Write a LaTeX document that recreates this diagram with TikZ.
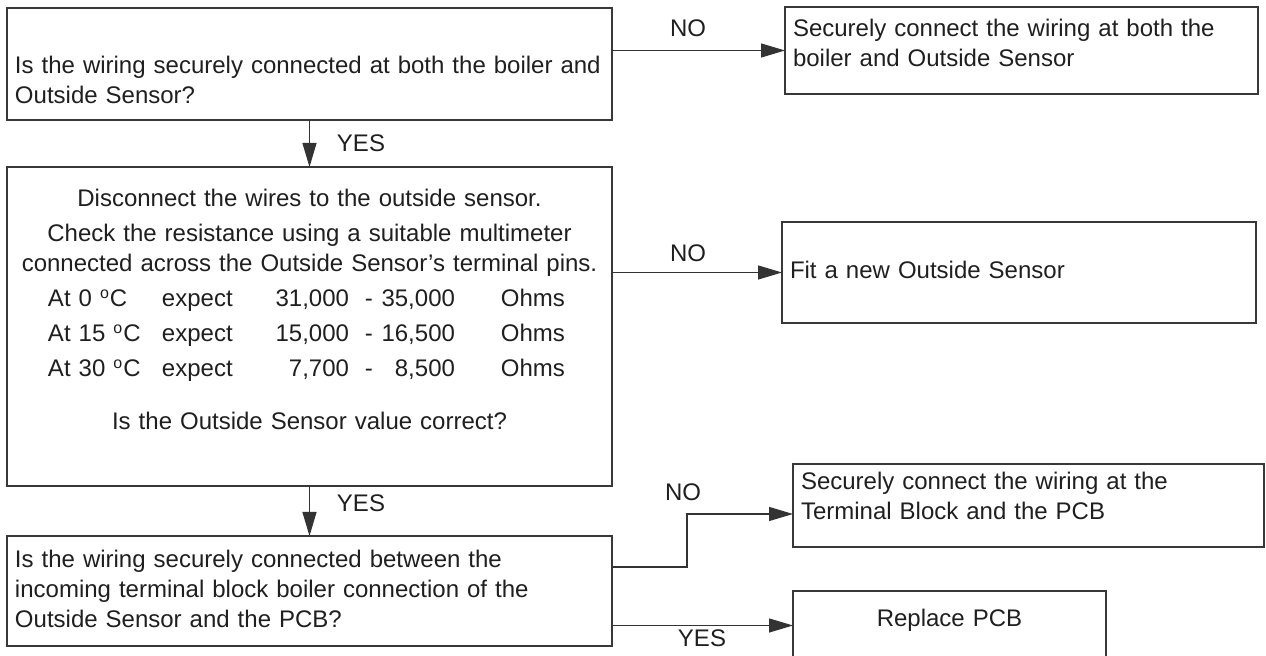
\documentclass[tikz,border=0pt]{standalone}
\usepackage{fontspec}
\setmainfont{Liberation Sans}
\usetikzlibrary{arrows.meta, positioning}
\newcommand{\tpad}[1]{\rule{0pt}{#1}}
\newcommand{\bpad}[1]{\rule[-#1]{0pt}{#1}}
\newcommand{\ohmrow}[3]{\makebox[\linewidth][l]{\hspace{16.5pt}\makebox[57pt][l]{At #1 \textsuperscript{o}C}\makebox[93.5pt]{expect\hfill #2}\makebox[12pt][r]{-}\makebox[41pt][r]{#3}\hspace{23pt}Ohms}}

\begin{document}
\begin{tikzpicture}[x=0.5pt, y=-0.5pt,
            box/.style={draw=black!78, line width=0.6pt, anchor=north west, inner xsep=4pt, inner ysep=0pt, outer sep=0pt, align=left, text=black!88, font=\fontsize{12}{15}\selectfont},
            lbl/.style={inner sep=0pt, text=black!88, font=\fontsize{12}{15}\selectfont},
            con/.style={draw=black!80, line width=0.6pt, -{Triangle[length=12pt, width=7pt]}}]
            \useasboundingbox (0,0) rectangle (1266,656);
            \clip (0,0) rectangle (1266,656);
            % questions on the left
            \node[box, text width=294.5pt] (q1) at (7,8) {\tpad{33pt}Is the wiring securely connected at both the boiler and\\Outside Sensor?\bpad{8pt}};
            \node[box, text width=294.5pt, align=center] (q2) at (7,167) {\tpad{20pt}Disconnect the wires to the outside sensor.\\[2.5pt]
                Check the resistance using a suitable multimeter\\
                connected across the Outside Sensor’s terminal pins.\\[2.5pt]
                \ohmrow{0}{31,000}{35,000}\\[2.5pt]
                \ohmrow{15}{15,000}{16,500}\\[2.5pt]
                \ohmrow{30}{7,700}{8,500}\\[11.5pt]
                Is the Outside Sensor value correct?\bpad{28pt}};
            \node[box, text width=294.5pt] (q3) at (7,536) {\tpad{16pt}Is the wiring securely connected between the\\incoming terminal block boiler connection of the\\Outside Sensor and the PCB?\bpad{9pt}};
            % actions on the right
            \node[box, text width=228.5pt] (a1) at (785,7) {\tpad{15pt}Securely connect the wiring at both the\\boiler and Outside Sensor\bpad{13.5pt}};
            \node[box, text width=229pt] (a2) at (782,222) {\tpad{28.5pt}Fit a new Outside Sensor\bpad{22pt}};
            \node[box, text width=227.5pt] (a3) at (793,464) {\tpad{13pt}Securely connect the wiring at the\\Terminal Block and the PCB\bpad{13.5pt}};
            \node[box, text width=148.5pt, align=center] (a4) at (793,591) {\tpad{18pt}Replace PCB\bpad{16.5pt}};
            % connectors
            \draw[con] (q1.east |- a1.west) -- (a1.west);
            \draw[con] (q1.south) -- (q2.north);
            \draw[con] (q2.east |- a2.west) -- (a2.west);
            \draw[con] (q2.south) -- (q3.north);
            \draw[con] ([yshift=12pt]q3.east) -- ++(75,0) |- ([yshift=-4.25pt]a3.west);
            \draw[con] (q3.east |- a4.west) -- (a4.west);
            % labels
            \node[lbl] (no1) at (688,28) {NO};
            \node[lbl] (yes1) at (361,143) {YES};
            \node[lbl] (no2) at (688,253) {NO};
            \node[lbl] (yes2) at (361,503) {YES};
            \node[lbl] (no3) at (683,492) {NO};
            \node[lbl] (yes3) at (702,638) {YES};
        \end{tikzpicture}
\end{document}
